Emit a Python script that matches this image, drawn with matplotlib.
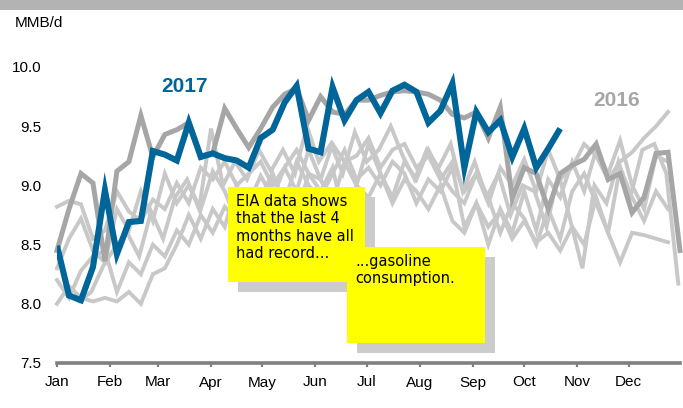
import numpy as np
import matplotlib
matplotlib.use("Agg")
from matplotlib import pyplot as plt
from matplotlib.patches import Rectangle

plt.rcParams['font.family'] = ['Liberation Sans', 'DejaVu Sans']

# weekly gasoline demand, MMB/d; x is day of year of each weekly reading
month_days = [1, 32, 60, 91, 121, 152, 182, 213, 244, 274, 305, 335]
month_labels = ['Jan', 'Feb', 'Mar', 'Apr', 'May', 'Jun', 'Jul', 'Aug', 'Sep', 'Oct', 'Nov', 'Dec']
y_ticks = [7.5, 8.0, 8.5, 9.0, 9.5, 10.0]

# earlier years (light gray)
older_start = [1, 7, 1, 1, 1]
older_1 = [8.82, 8.87, 8.84, 8.55, 8.62, 8.95, 8.78, 8.70, 8.88, 8.80, 9.02, 8.85, 9.15,
           9.05, 9.20, 9.00, 9.10, 9.20, 9.00, 9.15, 9.30, 9.10, 9.05, 9.35, 9.20, 9.25,
           9.40, 9.15, 9.30, 9.35, 9.15, 9.25, 9.05, 9.20, 8.95, 9.10, 8.85, 9.15, 9.00,
           9.22, 8.95, 9.30, 9.05, 9.15, 9.35, 9.25, 9.05, 9.20, 9.28, 9.40, 9.50, 9.62]
older_2 = [8.08, 8.02, 8.10, 8.32, 8.48, 8.60, 8.40, 8.78, 8.55, 8.90, 9.05, 8.80, 9.48,
           9.00, 9.20, 9.05, 9.30, 9.12, 9.30, 9.10, 9.50, 9.20, 9.35, 9.10, 9.45, 9.20,
           9.30, 9.50, 9.25, 9.05, 9.30, 9.15, 9.35, 8.95, 9.20, 8.90, 9.10, 8.75, 9.00,
           8.95, 8.65, 9.10, 8.70, 8.30, 9.00, 8.85, 9.20, 8.90, 9.30, 9.35, 9.10, 8.17]
older_3 = [8.20, 8.05, 8.28, 8.40, 8.45, 8.10, 8.35, 8.25, 8.50, 8.40, 8.62, 8.50, 8.75,
           8.60, 8.82, 8.70, 8.95, 8.85, 9.05, 8.90, 8.75, 9.10, 8.95, 9.15, 8.70, 9.00,
           8.90, 9.10, 8.85, 9.05, 8.95, 8.80, 9.00, 8.70, 8.60, 8.85, 8.65, 8.78, 8.55,
           8.70, 8.52, 8.60, 8.45, 8.65, 8.50, 8.90, 8.60, 8.35, 8.60, 8.58, 8.55, 8.52]
older_4 = [8.00, 8.15, 8.05, 8.02, 8.05, 8.02, 8.10, 8.00, 8.25, 8.30, 8.50, 8.75, 8.55,
           8.80, 8.65, 9.00, 8.75, 8.90, 9.10, 8.85, 9.20, 9.00, 8.90, 9.10, 9.30, 9.05,
           9.15, 9.00, 9.20, 9.10, 8.85, 9.05, 8.95, 9.15, 8.65, 8.85, 8.50, 8.80, 8.60,
           8.95, 8.62, 9.05, 8.90, 9.20, 8.95, 9.30, 9.10, 9.38, 9.00, 8.80, 9.25, 9.20]
older_5 = [8.30, 8.55, 8.72, 8.45, 8.35, 8.80, 8.62, 8.95, 8.70, 9.10, 8.85, 9.00, 8.80,
           9.12, 8.95, 8.70, 8.85, 9.08, 8.90, 9.15, 8.95, 9.30, 9.05, 8.85, 9.20, 9.00,
           9.35, 9.10, 8.90, 9.20, 9.05, 9.30, 9.10, 8.95, 8.85, 9.10, 8.90, 8.60, 8.85,
           8.72, 8.50, 8.80, 8.55, 8.95, 9.10, 8.85, 8.60, 9.15, 8.90, 8.70, 8.95, 8.80]

start_2016 = 1
demand_2016 = [8.45, 8.80, 9.10, 9.02, 8.36, 9.12, 9.20, 9.59, 9.24, 9.43, 9.47, 9.53, 9.25,
               9.27, 9.65, 9.48, 9.32, 9.48, 9.66, 9.77, 9.82, 9.55, 9.75, 9.62, 9.60, 9.72,
               9.72, 9.76, 9.79, 9.80, 9.79, 9.77, 9.72, 9.60, 9.57, 9.62, 9.40, 9.66, 8.89,
               9.15, 9.10, 8.80, 9.10, 9.17, 9.22, 9.35, 9.05, 9.10, 8.77, 8.90, 9.27, 9.28,
               8.45]

start_2017 = 1
demand_2017 = [8.49, 8.07, 8.03, 8.31, 8.96, 8.42, 8.69, 8.70, 9.29, 9.26, 9.21, 9.53, 9.24,
               9.27, 9.23, 9.21, 9.15, 9.40, 9.47, 9.70, 9.84, 9.31, 9.28, 9.83, 9.55, 9.72,
               9.79, 9.61, 9.80, 9.85, 9.79, 9.53, 9.63, 9.86, 9.15, 9.62, 9.45, 9.55, 9.24,
               9.48, 9.15, 9.31, 9.48]


def week_days(start, values):
    return start + 7 * np.arange(len(values))


W, H = 683, 408
fig = plt.figure(figsize=(W / 100, H / 100), dpi=100)
ax = fig.add_axes([57 / W, 1 - 363 / H, (680 - 57) / W, (363 - 67) / H])

# older years
for start, vals in zip(older_start, [older_1, older_2, older_3, older_4, older_5]):
    ax.plot(week_days(start, vals), vals, color='#c8c8c8', lw=2.8,
            solid_joinstyle='miter', clip_on=False, zorder=2)
ax.plot(week_days(start_2016, demand_2016), demand_2016, color='#a6a6a6', lw=3.6,
        solid_joinstyle='miter', clip_on=False, zorder=3)
ax.plot(week_days(start_2017, demand_2017), demand_2017, color='#00669a', lw=4.4,
        solid_joinstyle='miter', solid_capstyle='butt', zorder=4)

ax.set_xlim(1, 365)
ax.set_ylim(7.5, 10.0)
ax.set_xticks(month_days)
ax.set_xticklabels(month_labels)
ax.set_yticks(y_ticks)
ax.set_yticklabels([f'{v:.1f}' for v in y_ticks])
for s in ['top', 'right', 'left']:
    ax.spines[s].set_visible(False)
ax.spines['bottom'].set_color('#808080')
ax.spines['bottom'].set_linewidth(2.6)
ax.tick_params(axis='x', length=3, width=1.6, color='#808080', labelsize=11, pad=6)
ax.tick_params(axis='y', length=0, labelsize=11, pad=11)


def px_rect(x0, y0, x1, y1, color, z):
    fig.patches.append(Rectangle((x0 / W, 1 - y1 / H), (x1 - x0) / W, (y1 - y0) / H,
                                 transform=fig.transFigure, facecolor=color,
                                 edgecolor='none', zorder=z))


# top band
px_rect(0, 0, W, 10, '#b3b3b3', 5)

fig.text(15 / W, 1 - 23 / H, 'MMB/d', fontsize=11, va='center')
fig.text(185 / W, 1 - 87 / H, '2017', fontsize=15, fontweight='bold', color='#00669a',
         ha='center', va='center')
fig.text(617 / W, 1 - 100 / H, '2016', fontsize=15, fontweight='bold', color='#a6a6a6',
         ha='center', va='center')

# callouts with drop shadows
px_rect(238, 197, 375, 292, '#cccccc', 6)
px_rect(228, 187, 365, 282, '#ffff00', 7)
fig.text(236 / W, 1 - 194 / H, 'EIA data shows\nthat the last 4\nmonths have all\nhad record...',
         fontsize=10.5, family=['DejaVu Sans'], va='top', ha='left', linespacing=1.2, zorder=8)
px_rect(357, 257, 495, 353, '#cccccc', 9)
px_rect(347, 247, 485, 343, '#ffff00', 10)
fig.text(355 / W, 1 - 254 / H, '...gasoline\nconsumption.',
         fontsize=10.5, family=['DejaVu Sans'], va='top', ha='left', linespacing=1.2, zorder=11)

fig.savefig('out.png', dpi=100)
